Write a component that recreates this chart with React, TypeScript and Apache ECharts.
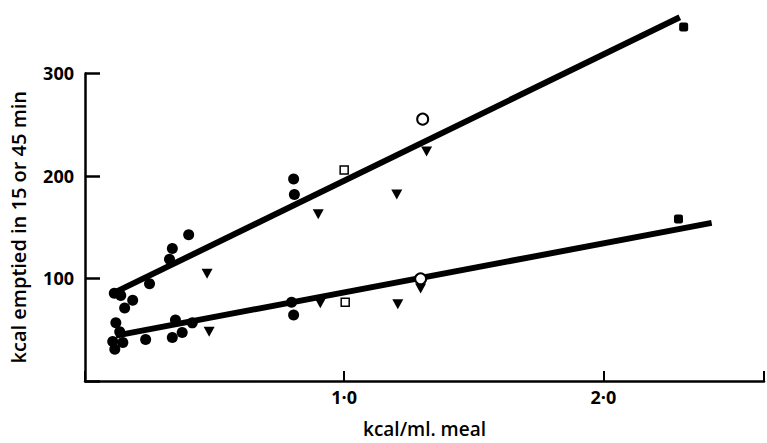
import React, { useEffect, useRef } from "react";
import * as echarts from "echarts";

// filled circles
const filledCircles: number[][] = [
  [0.40, 142.7], [0.337, 129.3], [0.326, 118.8], [0.249, 94.9], [0.113, 85.5], [0.138, 83.5],
  [0.184, 78.7], [0.153, 71.1], [0.805, 197.1], [0.808, 181.9],
  [0.119, 56.8], [0.134, 48.1], [0.107, 38.6], [0.115, 31.0], [0.146, 37.6], [0.234, 40.5],
  [0.349, 59.6], [0.337, 42.4], [0.375, 47.2], [0.414, 56.7], [0.797, 76.8], [0.805, 64.4],
];
// filled downward triangles
const triangles: number[][] = [
  [0.471, 104.5], [0.900, 162.7], [1.203, 181.8], [1.318, 223.9],
  [0.479, 48.1], [0.908, 75.8], [1.207, 74.9], [1.295, 90.2],
];
const openSquares: number[][] = [[1.0, 205.7], [1.004, 76.8]];
const openCircles: number[][] = [[1.303, 255.4], [1.295, 99.7]];
const filledSquares: number[][] = [[2.31, 345.2], [2.29, 158.0]];
// regression lines
const upperLine: number[][] = [[0.115, 86.4], [2.295, 354.7]];
const lowerLine: number[][] = [[0.119, 44.3], [2.418, 154.2]];

const xTickLabels: Record<number, string> = { 1: "1·0", 2: "2·0" };
const yTickLabels: Record<number, string> = { 100: "100", 200: "200", 300: "300" };

const FONT = "'Open Sans', 'DejaVu Sans', sans-serif";

export default function App() {
  const ref = useRef<HTMLDivElement>(null);
  useEffect(() => {
    if (!ref.current) return;
    const chart = echarts.init(ref.current, undefined, { renderer: "svg" });
    const black = "#000";
    chart.setOption({
      animation: false,
      backgroundColor: "#fff",
      grid: { left: 82, top: 73.4, right: 0, bottom: 55.6 },
      xAxis: {
        type: "value",
        min: 0,
        max: 2.62,
        interval: 1,
        splitLine: { show: false },
        axisLine: { show: true, lineStyle: { color: black, width: 2.5 } },
        axisTick: { show: true, inside: true, length: 10, lineStyle: { color: black, width: 2 } },
        axisLabel: {
          formatter: (v: number) => xTickLabels[v] || "",
          color: black,
          fontFamily: FONT,
          fontWeight: "bold",
          fontSize: 18,
          margin: 7,
        },
        name: "kcal/ml. meal",
        nameLocation: "middle",
        nameGap: 38,
        nameTextStyle: { color: black, fontFamily: FONT, fontWeight: 600, fontSize: 19 },
      },
      yAxis: {
        type: "value",
        min: 0,
        max: 300,
        interval: 100,
        splitLine: { show: false },
        axisLine: { show: true, lineStyle: { color: black, width: 2.5 } },
        axisTick: { show: true, inside: true, length: 15, lineStyle: { color: black, width: 2.5 } },
        axisLabel: {
          formatter: (v: number) => yTickLabels[v] || "",
          color: black,
          fontFamily: FONT,
          fontWeight: "bold",
          fontSize: 18,
          margin: 11,
        },
        name: "kcal emptied in 15 or 45 min",
        nameLocation: "middle",
        nameRotate: 90,
        nameGap: 57,
        nameTextStyle: { color: black, fontFamily: FONT, fontWeight: 600, fontSize: 20 },
      },
      series: [
        {
          type: "line", data: upperLine, symbol: "none", clip: false,
          lineStyle: { color: black, width: 6, cap: "butt" }, z: 2,
        },
        {
          type: "line", data: lowerLine, symbol: "none", clip: false,
          lineStyle: { color: black, width: 6, cap: "butt" }, z: 2,
        },
        {
          type: "scatter", data: filledCircles, symbol: "circle", symbolSize: 11, clip: false,
          itemStyle: { color: black, opacity: 1 }, z: 3,
        },
        {
          type: "scatter", data: triangles, symbol: "triangle", symbolSize: [11, 10], symbolRotate: 180, clip: false,
          itemStyle: { color: black, opacity: 1 }, z: 3,
        },
        {
          type: "scatter", data: openSquares, symbol: "rect", symbolSize: 8, clip: false,
          itemStyle: { color: "#fff", borderColor: black, borderWidth: 1.5, opacity: 1 }, z: 4,
        },
        {
          type: "scatter", data: openCircles, symbol: "circle", symbolSize: 11, clip: false,
          itemStyle: { color: "#fff", borderColor: black, borderWidth: 2, opacity: 1 }, z: 4,
        },
        {
          type: "scatter", data: filledSquares, symbol: "roundRect", symbolSize: 9, clip: false,
          itemStyle: { color: black, opacity: 1 }, z: 3,
        },
      ],
    });
    return () => chart.dispose();
  }, []);
  return <div ref={ref} style={{ width: 767, height: 443, position: "absolute", left: 0, top: 0 }} />;
}
